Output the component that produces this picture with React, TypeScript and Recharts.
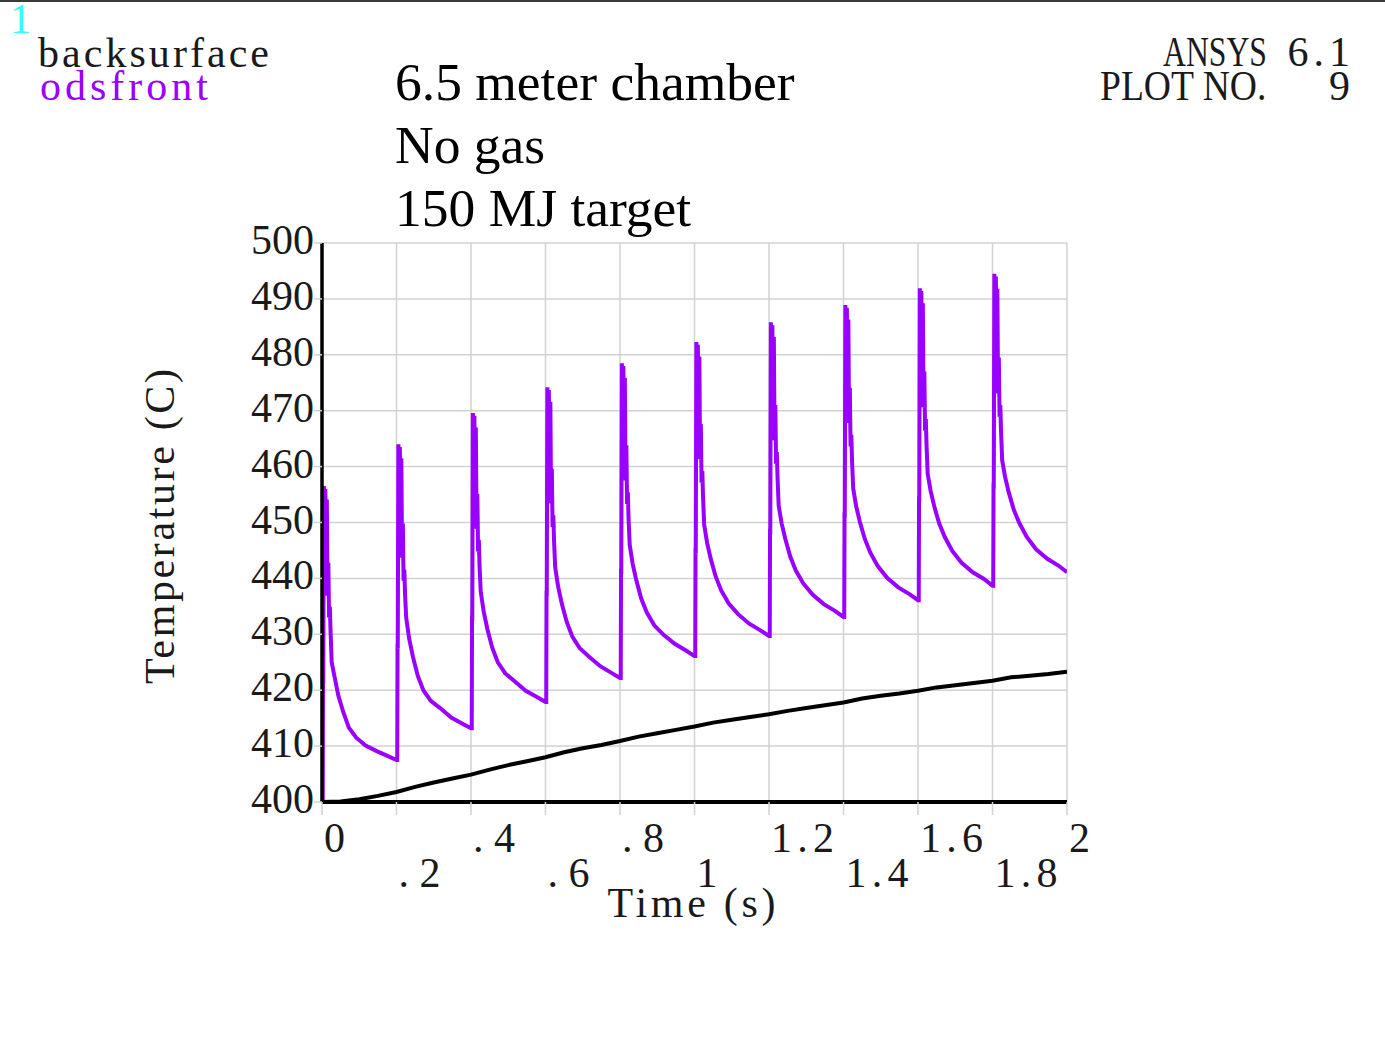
import React from "react";
import { LineChart, Line, XAxis, YAxis, CartesianGrid } from "recharts";

// ---------- axis ticks ----------
const timeTicks = [0, 0.2, 0.4, 0.6, 0.8, 1, 1.2, 1.4, 1.6, 1.8, 2];
const timeTickLabels = ["0", ".2", ".4", ".6", ".8", "1", "1.2", "1.4", "1.6", "1.8", "2"];
const tempTicks = [400, 410, 420, 430, 440, 450, 460, 470, 480, 490, 500];

// ---------- backsurface (black) ----------
const backsurfaceTimes = [
  0, 0.05, 0.1, 0.15, 0.2, 0.25, 0.3, 0.35, 0.4, 0.45, 0.5, 0.55, 0.6, 0.65, 0.7, 0.75, 0.8, 0.85, 0.9, 0.95,
  1.0, 1.05, 1.1, 1.15, 1.2, 1.25, 1.3, 1.35, 1.4, 1.45, 1.5, 1.55, 1.6, 1.65, 1.7, 1.75, 1.8, 1.85, 1.9, 1.95, 2.0,
];
const backsurfaceTemps = [
  400, 400.1, 400.5, 401.1, 401.8, 402.7, 403.5, 404.2, 404.9, 405.8, 406.6, 407.3, 408.0, 408.9, 409.6, 410.2,
  410.9, 411.7, 412.3, 412.9, 413.5, 414.2, 414.7, 415.2, 415.7, 416.3, 416.8, 417.3, 417.8, 418.5, 419.0, 419.4,
  419.9, 420.5, 420.9, 421.3, 421.7, 422.3, 422.6, 422.9, 423.3,
];

// ---------- odsfront (purple) ----------
const odsfrontStart = { t: 0, v: 400 };
const pulseTimes = [0.002, 0.202, 0.402, 0.602, 0.802, 1.002, 1.202, 1.402, 1.602, 1.802];
const pulseOffsets = [
  0, 0.0008, 0.0014, 0.003, 0.005, 0.007, 0.009, 0.011, 0.013, 0.015, 0.017, 0.019, 0.021,
  0.024, 0.032, 0.042, 0.055, 0.07, 0.09, 0.115, 0.145, 0.175, 0.198,
];
const odsfrontPulse1 = [400, 422.2, 421.2, 456.5, 451.6, 456.0, 444.3, 454.1, 436.9, 442.8, 433.0, 434.9, 430.5, 425.0, 422.3, 419.0, 416.1, 413.3, 411.5, 410.1, 409.1, 408.2, 407.5];
const odsfrontPulse2 = [407.5, 428.4, 427.4, 464.0, 458.9, 463.5, 451.3, 461.5, 443.7, 449.8, 439.6, 441.6, 437.1, 433.0, 429.2, 426.0, 422.6, 420.0, 418.1, 416.8, 415.1, 414.0, 413.2];
const odsfrontPulse3 = [413.2, 433.4, 432.4, 469.6, 464.4, 469.1, 456.7, 467.0, 448.9, 455.1, 444.8, 446.9, 442.2, 437.7, 434.1, 430.9, 427.6, 425.0, 423.0, 421.6, 419.9, 418.8, 417.9];
const odsfrontPulse4 = [417.9, 437.8, 436.8, 474.2, 469.0, 473.7, 461.2, 471.6, 453.4, 459.6, 449.2, 451.3, 446.6, 442.0, 438.5, 435.4, 432.2, 429.6, 427.5, 426.0, 424.3, 423.1, 422.2];
const odsfrontPulse5 = [422.2, 441.8, 440.8, 478.5, 473.3, 478.0, 465.4, 475.9, 457.5, 463.8, 453.3, 455.4, 450.7, 446.0, 442.6, 439.6, 436.4, 433.9, 431.6, 429.9, 428.3, 427.1, 426.1];
const odsfrontPulse6 = [426.1, 445.5, 444.4, 482.3, 477.0, 481.8, 469.2, 479.7, 461.3, 467.6, 457.1, 459.2, 454.4, 449.6, 446.3, 443.4, 440.3, 437.8, 435.5, 433.6, 431.9, 430.7, 429.7];
const odsfrontPulse7 = [429.7, 448.9, 447.9, 485.8, 480.5, 485.3, 472.6, 483.2, 464.7, 471.0, 460.5, 462.6, 457.9, 453.0, 449.8, 447.0, 443.9, 441.4, 439.1, 437.1, 435.4, 434.2, 433.1];
const odsfrontPulse8 = [433.1, 451.9, 450.9, 488.9, 483.6, 488.4, 475.7, 486.3, 467.8, 474.1, 463.6, 465.7, 460.9, 456.1, 452.9, 450.1, 447.1, 444.6, 442.2, 440.1, 438.4, 437.2, 436.1];
const odsfrontPulse9 = [436.1, 454.7, 453.6, 491.9, 486.6, 491.4, 478.6, 489.2, 470.6, 477.0, 466.4, 468.5, 463.7, 458.7, 455.6, 452.8, 449.8, 447.4, 444.9, 442.8, 441.1, 439.9, 438.7];
const odsfrontPulse10 = [438.7, 457.1, 456.1, 494.5, 489.2, 494.0, 481.2, 491.8, 473.1, 479.5, 468.9, 471.0, 466.2, 461.1, 458.1, 455.3, 452.3, 449.9, 447.4, 445.2, 443.5, 442.3, 441.1];
const odsfrontPulses = [
  odsfrontPulse1, odsfrontPulse2, odsfrontPulse3, odsfrontPulse4, odsfrontPulse5,
  odsfrontPulse6, odsfrontPulse7, odsfrontPulse8, odsfrontPulse9, odsfrontPulse10,
];

// ---------- text ----------
const titleLines = ["6.5 meter chamber", "No gas", "150 MJ target"];
const legendNames = ["backsurface", "odsfront"];
const stampLabels = ["ANSYS", "PLOT NO."];
const stampValues = ["6.1", "9"];
const windowNumber = "1";
const xAxisTitle = "Time (s)";
const yAxisTitle = "Temperature (C)";

// ---------- tables ----------
const backsurfaceData = backsurfaceTimes.map((t, i) => ({ t, v: backsurfaceTemps[i] }));
const odsfrontData = [odsfrontStart].concat(
  pulseTimes.flatMap((s, k) => pulseOffsets.map((o, j) => ({ t: s + o, v: odsfrontPulses[k][j] })))
);

const PURPLE = "#9a00ff";
const PLOT_FONT = "'Liberation Serif', 'Times New Roman', serif";
const CHAR_W = 21;
const PLOT_FONT_SIZE = 42;

function PlotText(props: any) {
  const { x, y, text, anchor = "start", fill = "#1a1a1a", transform, charW = CHAR_W, adjust = "spacing" } = props;
  return (
    <text
      x={x}
      y={y}
      fontFamily={PLOT_FONT}
      fontSize={PLOT_FONT_SIZE}
      textLength={text.length * charW}
      lengthAdjust={adjust}
      textAnchor={anchor}
      fill={fill}
      transform={transform}
      style={{ whiteSpace: "pre" }}
    >
      {text}
    </text>
  );
}

function XTick(props: any) {
  const { x, y, payload } = props;
  const idx = timeTicks.findIndex((t) => Math.abs(t - payload.value) < 1e-9);
  const label = idx >= 0 ? timeTickLabels[idx] : String(payload.value);
  const lower = idx % 2 === 1;
  return <PlotText x={x + 2} y={y + (lower ? 72 : 37)} text={label} />;
}

function YTick(props: any) {
  const { x, y, payload } = props;
  return <PlotText x={x} y={y + 11} text={String(payload.value)} anchor="end" />;
}

function XTitle(props: any) {
  const vb = props.viewBox || {};
  return <PlotText x={vb.x + vb.width / 2 - 3} y={vb.y + 115} text={xAxisTitle} anchor="middle" />;
}

function YTitle(props: any) {
  const vb = props.viewBox || {};
  const cx = vb.x - 48;
  const cy = vb.y + vb.height / 2 + 4;
  return <PlotText x={cx} y={cy} text={yAxisTitle} anchor="middle" transform={`rotate(-90 ${cx} ${cy})`} />;
}

export default function App() {
  return (
    <div style={{ position: "absolute", left: 0, top: 0, width: 1385, height: 1044, background: "#fff", overflow: "hidden" }}>
      <div style={{ position: "absolute", left: 0, top: 0, width: 1385, height: 2, background: "#3a3a3a" }} />
      <LineChart width={1385} height={1044} margin={{ top: 243, right: 318, bottom: 142, left: 222 }}>
        <CartesianGrid stroke="#d2d2d2" strokeWidth={1.5} />
        <XAxis
          dataKey="t"
          type="number"
          domain={[0, 2]}
          ticks={timeTicks}
          interval={0}
          height={100}
          tickSize={13}
          tickMargin={0}
          tickLine={{ stroke: "#d2d2d2", strokeWidth: 1.5 }}
          axisLine={{ stroke: "#000", strokeWidth: 4 }}
          tick={<XTick />}
          allowDataOverflow
          label={{ content: <XTitle /> }}
        />
        <YAxis
          type="number"
          domain={[400, 500]}
          ticks={tempTicks}
          interval={0}
          width={100}
          tickSize={8}
          tickMargin={0}
          tickLine={{ stroke: "#d2d2d2", strokeWidth: 1.5 }}
          axisLine={{ stroke: "#000", strokeWidth: 3.5 }}
          tick={<YTick />}
          allowDataOverflow
          label={{ content: <YTitle /> }}
        />
        <Line
          data={odsfrontData}
          dataKey="v"
          name="odsfront"
          type="linear"
          stroke={PURPLE}
          strokeWidth={4}
          strokeLinejoin="miter"
          dot={false}
          activeDot={false}
          isAnimationActive={false}
        />
        <Line
          data={backsurfaceData}
          dataKey="v"
          name="backsurface"
          type="linear"
          stroke="#000"
          strokeWidth={4}
          dot={false}
          activeDot={false}
          isAnimationActive={false}
        />
      </LineChart>
      <svg width={1385} height={1044} style={{ position: "absolute", left: 0, top: 0, pointerEvents: "none" }}>
        <PlotText x={10} y={33} text={windowNumber} fill="#3ff" />
        <PlotText x={38} y={67} text={legendNames[0]} />
        <PlotText x={40} y={100} text={legendNames[1]} fill={PURPLE} />
        <PlotText x={1163} y={66} text={stampLabels[0]} charW={20.8} adjust="spacingAndGlyphs" />
        <PlotText x={1350} y={66} text={stampValues[0]} anchor="end" charW={20.8} />
        <PlotText x={1100} y={100} text={stampLabels[1]} charW={20.8} adjust="spacingAndGlyphs" />
        <PlotText x={1350} y={100} text={stampValues[1]} anchor="end" charW={20.8} />
        {titleLines.map((line, i) => (
          <text
            key={line}
            x={395}
            y={100 + i * 63}
            fontFamily="'Liberation Serif', 'Times New Roman', serif"
            fontSize={53.5}
            fill="#000"
          >
            {line}
          </text>
        ))}
      </svg>
    </div>
  );
}
